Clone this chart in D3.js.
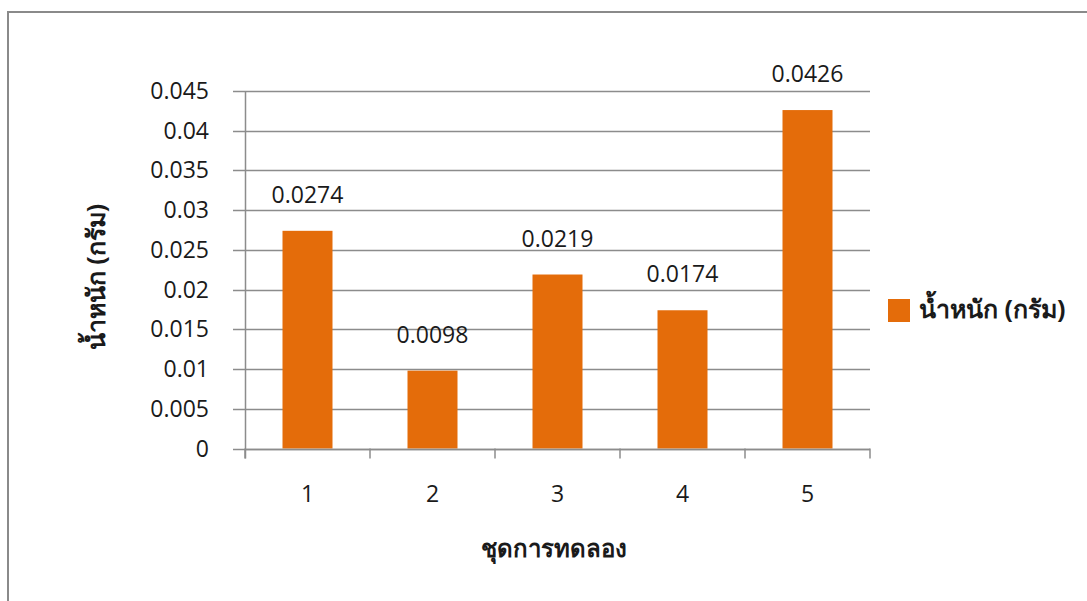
<!DOCTYPE html>
<html>
<head>
<meta charset="utf-8">
<script src="https://cdn.jsdelivr.net/npm/d3@7"></script>
<style>
  html, body { margin: 0; padding: 0; background: #ffffff; }
  svg { display: block; }
  text { font-family: "Open Sans", "Noto Sans", "DejaVu Sans", sans-serif; fill: #1a1a1a; }
</style>
</head>
<body>
<svg id="chart" width="1087" height="601"></svg>
<script>
// Weight per experiment set
const categories = ["1", "2", "3", "4", "5"];
const weights = [0.0274, 0.0098, 0.0219, 0.0174, 0.0426];
const yTicks = [0, 0.005, 0.01, 0.015, 0.02, 0.025, 0.03, 0.035, 0.04, 0.045];
const yTickLabels = ["0", "0.005", "0.01", "0.015", "0.02", "0.025", "0.03", "0.035", "0.04", "0.045"];
const seriesName = "น้ำหนัก (กรัม)";
const xTitle = "ชุดการทดลอง";
const yTitle = "น้ำหนัก (กรัม)";

const svg = d3.select("#chart");
const barColor = "#e46c0a";
const gridColor = "#8c8c8c";

// outer frame
svg.append("rect")
  .attr("x", 8).attr("y", 12)
  .attr("width", 1100).attr("height", 620)
  .attr("fill", "none")
  .attr("stroke", "#8a8a8a")
  .attr("stroke-width", 2);

const plot = { left: 245, right: 870, top: 91, bottom: 448.5 };

const x = d3.scaleBand()
  .domain(categories)
  .range([plot.left, plot.right])
  .paddingInner(0.6)
  .paddingOuter(0.3);

const y = d3.scaleLinear()
  .domain([0, 0.045])
  .range([plot.bottom, plot.top]);

// horizontal gridlines with short ticks left of the axis
const grid = svg.append("g");
grid.selectAll("line")
  .data(yTicks)
  .join("line")
  .attr("x1", plot.left - 12)
  .attr("x2", plot.right)
  .attr("y1", d => Math.round(y(d)) + 0.5)
  .attr("y2", d => Math.round(y(d)) + 0.5)
  .attr("stroke", gridColor)
  .attr("stroke-width", 1.5);

// y axis tick labels
svg.append("g").selectAll("text")
  .data(yTicks)
  .join("text")
  .attr("x", plot.left - 36)
  .attr("y", d => y(d))
  .attr("dy", "0.35em")
  .attr("text-anchor", "end")
  .attr("font-size", 23)
  .text((d, i) => yTickLabels[i]);

// bars
svg.append("g").selectAll("rect")
  .data(weights)
  .join("rect")
  .attr("x", (d, i) => x(categories[i]))
  .attr("width", x.bandwidth())
  .attr("y", d => y(d))
  .attr("height", d => y(0) - y(d))
  .attr("fill", barColor);

// value labels
svg.append("g").selectAll("text")
  .data(weights)
  .join("text")
  .attr("x", (d, i) => x(categories[i]) + x.bandwidth() / 2)
  .attr("y", d => y(d) - 28)
  .attr("text-anchor", "middle")
  .attr("font-size", 23)
  .text(d => d.toFixed(4));

// y axis line
svg.append("line")
  .attr("x1", plot.left + 0.5).attr("x2", plot.left + 0.5)
  .attr("y1", plot.top).attr("y2", plot.bottom + 10)
  .attr("stroke", gridColor).attr("stroke-width", 1.5);

// x axis line and category boundary ticks
svg.append("line")
  .attr("x1", plot.left).attr("x2", plot.right)
  .attr("y1", Math.round(y(0)) + 0.5).attr("y2", Math.round(y(0)) + 0.5)
  .attr("stroke", gridColor).attr("stroke-width", 1.5);

const boundaries = d3.range(categories.length + 1).map(i => plot.left + i * (plot.right - plot.left) / categories.length);
svg.append("g").selectAll("line")
  .data(boundaries)
  .join("line")
  .attr("x1", d => d).attr("x2", d => d)
  .attr("y1", y(0)).attr("y2", y(0) + 10)
  .attr("stroke", gridColor).attr("stroke-width", 1.5);

// category labels
svg.append("g").selectAll("text")
  .data(categories)
  .join("text")
  .attr("x", d => x(d) + x.bandwidth() / 2)
  .attr("y", 502)
  .attr("text-anchor", "middle")
  .attr("font-size", 23)
  .text(d => d);

// axis titles
svg.append("text")
  .attr("x", 554).attr("y", 557)
  .attr("text-anchor", "middle")
  .attr("font-size", 24)
  .attr("font-weight", "bold")
  .text(xTitle);

svg.append("text")
  .attr("transform", "translate(105,277) rotate(-90)")
  .attr("text-anchor", "middle")
  .attr("font-size", 25)
  .attr("font-weight", "bold")
  .text(yTitle);

// legend
svg.append("rect")
  .attr("x", 888).attr("y", 299)
  .attr("width", 22).attr("height", 23)
  .attr("fill", barColor);
svg.append("text")
  .attr("x", 919).attr("y", 318)
  .attr("font-size", 25)
  .attr("font-weight", "bold")
  .text(seriesName);
</script>
</body>
</html>
